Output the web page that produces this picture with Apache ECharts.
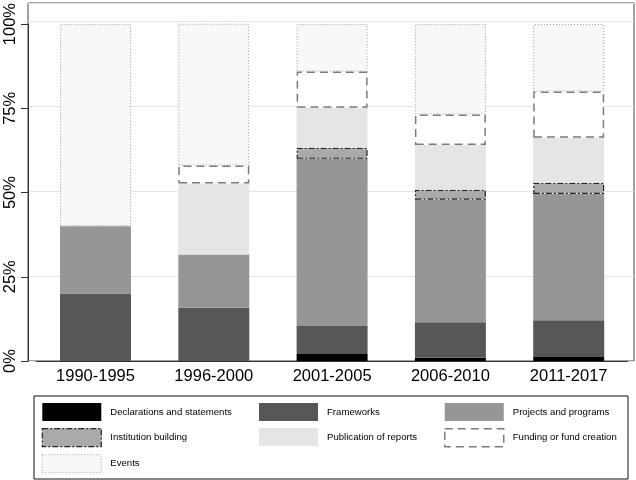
<!DOCTYPE html>
<html>
<head>
<meta charset="utf-8">
<script src="https://cdn.jsdelivr.net/npm/echarts@6/dist/echarts.min.js"></script>
<style>
html,body{margin:0;padding:0;background:#fff;}
#c{width:636px;height:480px;}
</style>
</head>
<body>
<div id="c"></div>
<script>
const categories = ['1990-1995', '1996-2000', '2001-2005', '2006-2010', '2011-2017'];
const seriesNames = ['Declarations and statements', 'Frameworks', 'Projects and programs', 'Institution building', 'Publication of reports', 'Funding or fund creation', 'Events'];
const declarations = [0, 0, 2.1, 1.0, 1.2];
const frameworks   = [20, 15.8, 8.3, 10.5, 10.9];
const projects     = [20, 15.8, 49.6, 36.4, 37.5];
const institution  = [0, 0, 3.3, 2.9, 3.3];
const publication  = [0, 21.1, 11.9, 13.3, 13.4];
const funding      = [0, 5.3, 10.7, 9.1, 13.7];
const events       = [60, 42.1, 14.1, 26.8, 20.0];
const yTicks = [0, 25, 50, 75, 100];

const values = [declarations, frameworks, projects, institution, publication, funding, events];
const styles = [
  {color: '#000000', borderWidth: 0},
  {color: '#575757', borderWidth: 0},
  {color: '#969696', borderWidth: 0},
  {color: '#aaaaaa', borderColor: '#222222', borderWidth: 1.2, borderType: [6, 2, 2, 2]},
  {color: '#e5e5e5', borderWidth: 0},
  {color: '#ffffff', borderColor: '#7a7a7a', borderWidth: 1.5, borderType: [8, 5]},
  {color: '#f8f8f8', borderColor: '#9a9a9a', borderWidth: 1, borderType: [1, 2]}
];
const FONT = 'Liberation Sans, Arial, Helvetica, sans-serif';

const series = seriesNames.map((name, i) => ({
  name: name,
  type: 'bar',
  stack: 'all',
  xAxisIndex: 0,
  yAxisIndex: 0,
  barWidth: '60%',
  itemStyle: styles[i],
  emphasis: {disabled: true},
  data: values[i].map(v => v === 0 ? '-' : v)
}));

function legendCol(idx, left) {
  return {
    data: idx.map(i => ({name: seriesNames[i], icon: 'rect', itemStyle: Object.assign({}, styles[i])})),
    orient: 'vertical',
    left: left,
    top: 403,
    padding: 0,
    itemWidth: 59,
    itemHeight: 18,
    itemGap: 7,
    icon: 'rect',
    selectedMode: false,
    textStyle: {fontFamily: FONT, fontSize: 9.6, color: '#000', padding: [0, 0, 0, 4]}
  };
}

const chart = echarts.init(document.getElementById('c'), null, {renderer: 'canvas'});
chart.setOption({
  animation: false,
  backgroundColor: '#ffffff',
  grid: [
    {left: 36.35, right: 8.15, top: 21, bottom: 119, containLabel: false},
    {left: 28, right: 2, top: 3, bottom: 119, show: true, borderColor: '#444444', borderWidth: 1, backgroundColor: 'transparent'}
  ],
  xAxis: [
    {
      type: 'category', gridIndex: 0, data: categories,
      axisLine: {lineStyle: {color: '#333333', width: 1}},
      axisTick: {show: false},
      axisLabel: {fontFamily: FONT, fontSize: 16.5, color: '#000', margin: 7}
    },
    {type: 'value', gridIndex: 1, min: 0, max: 1, show: false}
  ],
  yAxis: [
    {
      type: 'value', gridIndex: 0, min: yTicks[0], max: yTicks[yTicks.length - 1], interval: 25,
      offset: 8.35,
      axisLine: {show: true, lineStyle: {color: '#333333', width: 1}},
      axisTick: {show: true, length: 7, lineStyle: {color: '#333333'}},
      splitLine: {show: false},
      axisLabel: {fontFamily: FONT, fontSize: 16.5, color: '#000', rotate: 90, margin: 9, formatter: '{value}%'}
    },
    {
      type: 'value', gridIndex: 1, min: 0, max: 105.3, interval: 25,
      axisLine: {show: false}, axisTick: {show: false}, axisLabel: {show: false},
      splitLine: {show: true, lineStyle: {color: '#e4e4e4', width: 1}}
    }
  ],
  legend: [
    legendCol([0, 3, 6], 41.7),
    legendCol([1, 4], 259),
    legendCol([2, 5], 444)
  ],
  graphic: [
    {type: 'rect', shape: {x: 34, y: 396, width: 594, height: 83}, style: {fill: 'none', stroke: '#111', lineWidth: 1}, z: 0}
  ],
  series: series
});
</script>
</body>
</html>
